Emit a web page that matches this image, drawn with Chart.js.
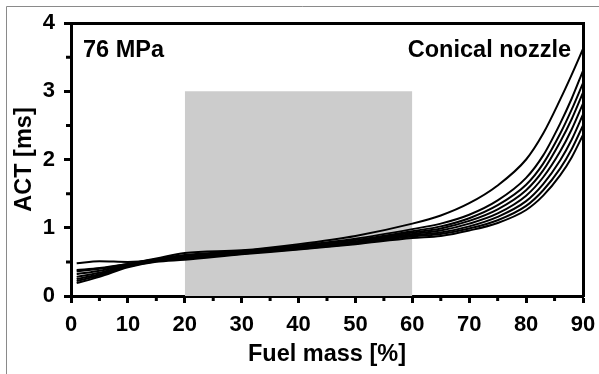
<!DOCTYPE html>
<html>
<head>
<meta charset="utf-8">
<script src="https://cdn.jsdelivr.net/npm/chart.js@4.4.1/dist/chart.umd.min.js"></script>
<style>
  html, body { margin: 0; padding: 0; background: #fff; }
  canvas { display: block; }
</style>
</head>
<body>
<canvas id="actChart" width="599" height="374"></canvas>
<script>
const FUEL_MASS = [1, 5, 10, 15, 20, 30, 40, 50, 60, 65, 70, 75, 80, 83, 86, 88, 90];

const ACT_1 = [0.36, 0.40, 0.47, 0.55, 0.63, 0.67, 0.76, 0.88, 1.06, 1.18, 1.36, 1.62, 2.00, 2.38, 2.88, 3.24, 3.62];
const ACT_2 = [0.38, 0.41, 0.47, 0.54, 0.60, 0.66, 0.74, 0.84, 0.98, 1.06, 1.19, 1.40, 1.73, 2.06, 2.53, 2.89, 3.30];
const ACT_3 = [0.32, 0.37, 0.46, 0.54, 0.59, 0.65, 0.73, 0.82, 0.95, 1.02, 1.14, 1.33, 1.63, 1.94, 2.38, 2.73, 3.12];
const ACT_4 = [0.28, 0.34, 0.45, 0.53, 0.58, 0.64, 0.72, 0.80, 0.93, 0.99, 1.10, 1.27, 1.55, 1.84, 2.26, 2.59, 2.98];
const ACT_5 = [0.48, 0.51, 0.50, 0.52, 0.56, 0.63, 0.71, 0.79, 0.91, 0.96, 1.06, 1.21, 1.47, 1.74, 2.12, 2.44, 2.82];
const ACT_6 = [0.25, 0.32, 0.44, 0.52, 0.56, 0.63, 0.70, 0.78, 0.89, 0.93, 1.02, 1.16, 1.39, 1.64, 1.99, 2.29, 2.66];
const ACT_7 = [0.22, 0.30, 0.43, 0.51, 0.55, 0.62, 0.69, 0.77, 0.87, 0.91, 0.99, 1.11, 1.32, 1.55, 1.87, 2.15, 2.50];
const ACT_8 = [0.19, 0.28, 0.42, 0.50, 0.53, 0.61, 0.68, 0.76, 0.85, 0.88, 0.96, 1.07, 1.26, 1.47, 1.77, 2.03, 2.36];

const ACT_SERIES = [ACT_1, ACT_2, ACT_3, ACT_4, ACT_5, ACT_6, ACT_7, ACT_8];

// shaded window on the fuel mass axis and its height
const SHADE_X = [20, 60];
const SHADE_TOP = 3;

const X_TICKS = [0, 10, 20, 30, 40, 50, 60, 70, 80, 90];
const Y_TICKS = [0, 1, 2, 3, 4];
const X_MINOR = [5, 15, 25, 35, 45, 55, 65, 75, 85];
const Y_MINOR = [0.5, 1.5, 2.5, 3.5];

const PRESSURE_LABEL = '76 MPa';
const NOZZLE_LABEL = 'Conical nozzle';

const FONT = 'Arial, "Liberation Sans", sans-serif';
const TICK_FONT = { family: FONT, size: 22, weight: 'bold', lineHeight: 1.2 };
const TITLE_FONT = { family: FONT, size: 23.5, weight: 'bold', lineHeight: 1.2 };

function curve(values) {
  return {
    type: 'line',
    data: values.map((v, i) => ({ x: FUEL_MASS[i], y: v })),
    borderColor: '#000',
    borderWidth: 2,
    pointRadius: 0,
    fill: false,
    tension: 0.4,
    cubicInterpolationMode: 'monotone',
    order: 1
  };
}

let datasets = ACT_SERIES.map(curve);
datasets.push({
  type: 'line',
  data: SHADE_X.map(x => ({ x: x, y: SHADE_TOP })),
  borderWidth: 0,
  pointRadius: 0,
  backgroundColor: '#cccccc',
  fill: 'origin',
  order: 10
});

// page frame, minor ticks and the two corner labels
const decorations = {
  id: 'decorations',
  beforeDraw(chart) {
    const ctx = chart.ctx;
    ctx.save();
    ctx.fillStyle = '#fff';
    ctx.fillRect(0, 0, chart.width, chart.height);
    ctx.strokeStyle = '#8a8a8a';
    ctx.lineWidth = 1;
    ctx.beginPath();
    ctx.moveTo(6.5, chart.height);
    ctx.lineTo(6.5, 6.5);
    ctx.lineTo(chart.width, 6.5);
    ctx.stroke();
    ctx.restore();
  },
  afterDraw(chart) {
    const ctx = chart.ctx;
    const xs = chart.scales.x, ys = chart.scales.y;
    const area = chart.chartArea;
    ctx.save();
    ctx.strokeStyle = '#000';
    ctx.lineWidth = 3;
    ctx.beginPath();
    X_MINOR.forEach(v => {
      const px = xs.getPixelForValue(v);
      ctx.moveTo(px, area.bottom);
      ctx.lineTo(px, area.bottom + 5);
    });
    Y_MINOR.forEach(v => {
      const py = ys.getPixelForValue(v);
      ctx.moveTo(area.left, py);
      ctx.lineTo(area.left - 5, py);
    });
    ctx.stroke();

    ctx.fillStyle = '#000';
    ctx.font = 'bold 23.5px ' + FONT;
    ctx.textBaseline = 'alphabetic';
    ctx.textAlign = 'left';
    ctx.fillText(PRESSURE_LABEL, area.left + 12, area.top + 34);
    ctx.textAlign = 'right';
    ctx.fillText(NOZZLE_LABEL, area.right - 12, area.top + 34);
    ctx.restore();
  }
};

new Chart(document.getElementById('actChart'), {
  type: 'line',
  data: { datasets: datasets },
  options: {
    responsive: false,
    animation: false,
    layout: { padding: { left: 0, top: 23, right: 16, bottom: 0 } },
    plugins: { legend: { display: false }, tooltip: { enabled: false } },
    scales: {
      x: {
        type: 'linear',
        position: 'bottom',
        min: 0,
        max: 90,
        afterBuildTicks: s => { s.ticks = X_TICKS.map(v => ({ value: v })); },
        afterFit: s => { s.height = 78; s.paddingLeft = 0; s.paddingRight = 0; },
        grid: { drawOnChartArea: false, drawTicks: true, tickLength: 7, tickWidth: 3, tickColor: '#000' },
        border: { display: true, color: '#000', width: 3 },
        ticks: { color: '#000', font: TICK_FONT, padding: 9, maxRotation: 0 },
        title: { display: true, text: 'Fuel mass [%]', color: '#000', font: TITLE_FONT, padding: { top: 0, bottom: 5 } }
      },
      y: {
        type: 'linear',
        position: 'left',
        min: 0,
        max: 4,
        afterBuildTicks: s => { s.ticks = Y_TICKS.map(v => ({ value: v })); },
        afterFit: s => { s.width = 71; s.paddingTop = 0; s.paddingBottom = 0; },
        grid: { drawOnChartArea: false, drawTicks: true, tickLength: 7, tickWidth: 3, tickColor: '#000' },
        border: { display: true, color: '#000', width: 3 },
        ticks: { color: '#000', font: TICK_FONT, padding: 9 },
        title: { display: true, text: 'ACT [ms]', color: '#000', font: TITLE_FONT, padding: { top: 10, bottom: 0 } }
      },
      x2: {
        type: 'linear',
        position: 'top',
        min: 0,
        max: 90,
        afterFit: s => { s.height = 0; },
        grid: { display: false, drawTicks: false },
        border: { display: true, color: '#000', width: 3 },
        ticks: { display: false }
      },
      y2: {
        type: 'linear',
        position: 'right',
        min: 0,
        max: 4,
        afterFit: s => { s.width = 0; },
        grid: { display: false, drawTicks: false },
        border: { display: true, color: '#000', width: 3 },
        ticks: { display: false }
      }
    }
  },
  plugins: [decorations]
});
</script>
</body>
</html>
